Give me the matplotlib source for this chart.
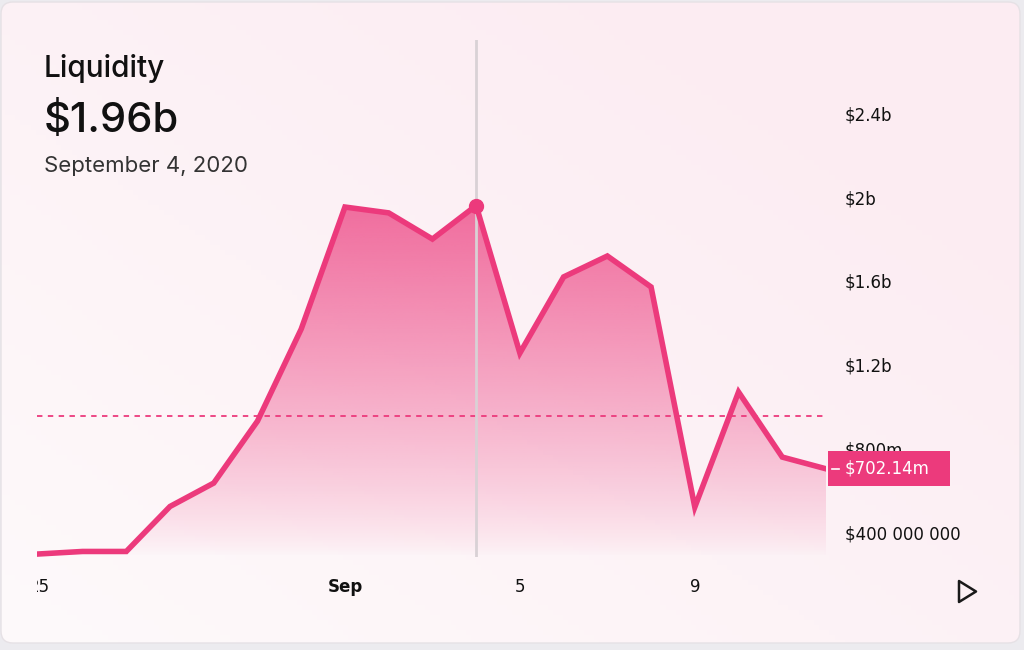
import numpy as np
import pandas as pd
import matplotlib
matplotlib.use("Agg")
import matplotlib.pyplot as plt
from matplotlib.patches import FancyBboxPatch, Rectangle, Polygon
from matplotlib.lines import Line2D
from matplotlib.transforms import Bbox, TransformedBbox, blended_transform_factory

# data (liquidity in billions of $)
dates = pd.date_range("2020-08-25", "2020-09-12", freq="D")
liquidity = [0.295, 0.307, 0.307, 0.522, 0.634, 0.930, 1.370, 1.953, 1.925, 1.800,
             1.960, 1.255, 1.619, 1.719, 1.571, 0.519, 1.069, 0.758, 0.702]
ref_level = 0.955
hover_date = pd.Timestamp("2020-09-04")
hover_value = 1.96
last_label = "$702.14m"
ytick_vals = [0.4, 0.8, 1.2, 1.6, 2.0, 2.4]
ytick_labels = ["$400 000 000", "$800m", "$1.2b", "$1.6b", "$2b", "$2.4b"]
xtick_dates = pd.to_datetime(["2020-08-25", "2020-09-01", "2020-09-05", "2020-09-09"])
xtick_labels = ["25", "Sep", "5", "9"]

PINK = "#EC3A7C"
W, H = 1024, 650

fig = plt.figure(figsize=(W / 100, H / 100), dpi=100)
fig.patch.set_facecolor("#ECEBEF")

# card background with soft pink gradient
bg = fig.add_axes([0, 0, 1, 1])
bg.set_xlim(0, W)
bg.set_ylim(H, 0)
bg.axis("off")
card = FancyBboxPatch((1, 2), W - 5, H - 9, boxstyle="round,pad=0,rounding_size=12",
                      facecolor="none", edgecolor="#E6E1E5", lw=1)
bg.add_patch(card)
gx, gy = np.meshgrid(np.linspace(0, 1, 200), np.linspace(0, 1, 130))
t = np.clip(0.6 * gx + 0.6 * (1 - gy), 0, 1)  # top-right pinker
c0 = np.array([254, 250, 251]) / 255
c1 = np.array([252, 236, 242]) / 255
grad = c0[None, None, :] * (1 - t[..., None]) + c1[None, None, :] * t[..., None]
im = bg.imshow(grad, extent=[0, W, H, 0], aspect="auto", zorder=0)
im.set_clip_path(card)

# play icon
bg.add_patch(Polygon([[959, 581], [959, 602], [976, 591.5]], closed=True,
                     facecolor="none", edgecolor="#1A1A1A", lw=1.8, joinstyle="round"))

# header
bg.text(44, 77, "Liquidity", fontsize=21.5, family="Inter", weight="medium",
        color="#111111", va="baseline")
bg.text(44, 132, "$1.96b", fontsize=30, family="Inter", weight="medium",
        color="#111111", va="baseline")
bg.text(44, 172, "September 4, 2020", fontsize=16, family="Inter", color="#333333",
        va="baseline")

# main chart
left, right, top, bottom = 37, 826, 40, 557
ax = fig.add_axes([left / W, 1 - bottom / H, (right - left) / W, (bottom - top) / H])
ax.set_facecolor("none")
x = dates
ax.set_xlim(dates[0] - pd.Timedelta(hours=1), dates[-1])
ymin = 0.4 - 25 / 209.25
ymax = 0.4 + 492 / 209.25
ax.set_ylim(ymin, ymax)

# gradient fill under the line
poly = ax.fill_between(x, liquidity, ymin, facecolor="none", edgecolor="none")
fy = np.linspace(0, 1, 300)
alpha = 0.72 * np.clip(fy / ((1.96 - ymin) / (ymax - ymin)), 0, 1) ** 0.8
rgba = np.zeros((300, 2, 4))
rgba[..., :3] = matplotlib.colors.to_rgb(PINK)
rgba[..., 3] = alpha[:, None]
xl = ax.get_xlim()
fill_im = ax.imshow(rgba, extent=[xl[0], xl[1], ymin, ymax], origin="lower",
                    aspect="auto", zorder=1)
fill_im.set_clip_path(poly.get_paths()[0], transform=ax.transData)
ax.set_xlim(xl)
ax.set_ylim(ymin, ymax)

ax.axhline(ref_level, color=PINK, lw=1.3, ls=(0, (3, 3)), zorder=2)
ax.axvline(hover_date, color="#D9D1D5", lw=2, zorder=2)
ax.plot(x, liquidity, color=PINK, lw=4, solid_joinstyle="miter", zorder=3)
ax.plot([hover_date], [hover_value], "o", color=PINK, ms=10, zorder=4)

# axes styling
for s in ax.spines.values():
    s.set_visible(False)
ax.yaxis.tick_right()
ax.set_yticks(ytick_vals)
ax.set_yticklabels(ytick_labels)
ax.set_xticks(xtick_dates)
ax.set_xticklabels(xtick_labels)
ax.tick_params(axis="y", length=0, pad=13.5, labelsize=12, labelcolor="#111111")
ax.tick_params(axis="x", length=0, pad=15, labelsize=12, labelcolor="#111111")
xlabels = ax.get_xticklabels()
xlabels[1].set_fontweight("bold")
clip = TransformedBbox(Bbox([[37 / W, 0], [1, 1]]), fig.transFigure)
xlabels[0].set_clip_box(clip)
xlabels[0].set_clip_on(True)

# last value marker box
tr = blended_transform_factory(fig.transFigure, ax.transData)
box_h = 35 / 209.25
ax.add_patch(Rectangle((828 / W, liquidity[-1] - box_h / 2), 122 / W, box_h,
                       transform=tr, facecolor=PINK, edgecolor="none",
                       clip_on=False, zorder=6))
ax.add_line(Line2D([832 / W, 839 / W], [liquidity[-1], liquidity[-1]], transform=tr,
                   color="white", lw=1.2, clip_on=False, zorder=7))
ax.text(845 / W, liquidity[-1], last_label, transform=tr, color="white", fontsize=12,
        va="center", ha="left", zorder=7, clip_on=False)

fig.savefig("out.png", dpi=100, facecolor=fig.get_facecolor())
